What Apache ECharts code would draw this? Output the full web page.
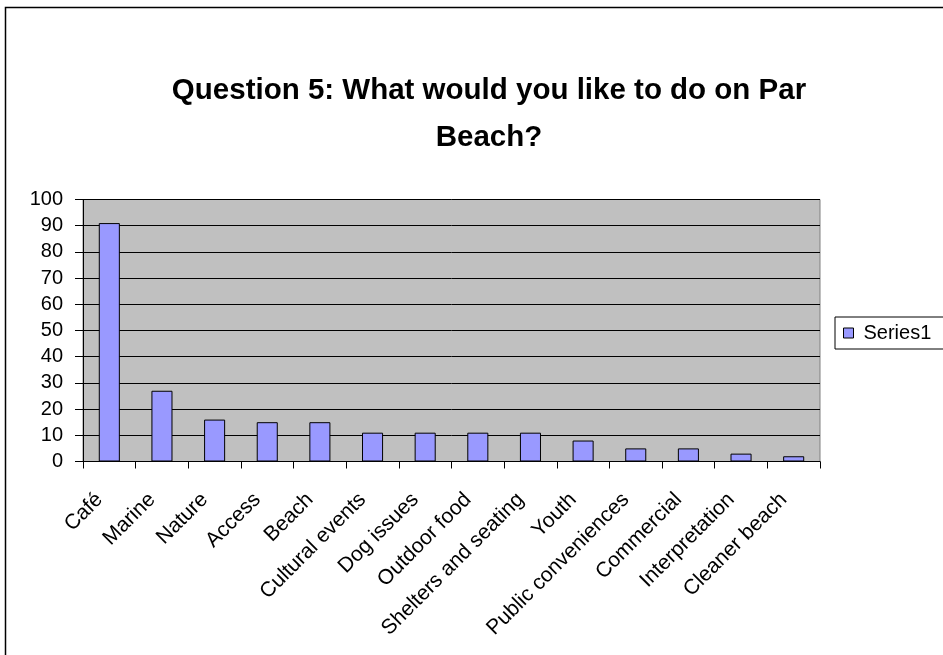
<!DOCTYPE html>
<html>
<head>
<meta charset="utf-8">
<style>
  html, body { margin: 0; padding: 0; background: #fff; }
  #chart { width: 943px; height: 655px; }
</style>
<script src="https://cdn.jsdelivr.net/npm/echarts@6/dist/echarts.min.js"></script>
</head>
<body>
<div id="chart"></div>
<script>
// Survey responses: what people would like to do on Par Beach
const categories = [
  'Café', 'Marine', 'Nature', 'Access', 'Beach', 'Cultural events',
  'Dog issues', 'Outdoor food', 'Shelters and seating', 'Youth',
  'Public conveniences', 'Commercial', 'Interpretation', 'Cleaner beach'
];
const series1 = [91, 27, 16, 15, 15, 11, 11, 11, 11, 8, 5, 5, 3, 2];
const yTicks = { min: 0, max: 100, interval: 10 };

const FONT = '"Liberation Sans", Arial, sans-serif';

const chart = echarts.init(document.getElementById('chart'), null, { renderer: 'canvas' });

chart.setOption({
  backgroundColor: '#ffffff',
  animation: false,
  title: {
    text: 'Question 5: What would you like to do on Par\nBeach?',
    left: 484,
    top: 62,
    textAlign: 'center',
    textStyle: {
      fontFamily: FONT,
      fontWeight: 'bold',
      fontSize: 29.5,
      lineHeight: 47,
      color: '#000'
    }
  },
  graphic: [
    {
      type: 'rect',
      shape: { x: 5.5, y: 7.5, width: 1000, height: 700 },
      style: { fill: 'none', stroke: '#000', lineWidth: 1.5 },
      silent: true
    }
  ],
  legend: {
    data: ['Series1'],
    left: 835,
    top: 317,
    orient: 'vertical',
    backgroundColor: '#fff',
    borderColor: '#000',
    borderWidth: 1,
    padding: [6, 20, 6, 8],
    icon: 'rect',
    itemWidth: 10,
    itemHeight: 10,
    itemGap: 4,
    itemStyle: { borderColor: '#000', borderWidth: 1 },
    textStyle: { fontFamily: FONT, fontSize: 20, color: '#000', padding: [0, 0, 0, 5] }
  },
  grid: {
    left: 83,
    top: 199.5,
    right: 123,
    bottom: 193.5,
    show: true,
    backgroundColor: '#C0C0C0',
    borderColor: '#808080',
    borderWidth: 1,
    containLabel: false
  },
  xAxis: {
    type: 'category',
    data: categories,
    boundaryGap: true,
    axisLine: { show: true, lineStyle: { color: '#000', width: 1 } },
    axisTick: { show: true, length: 7, lineStyle: { color: '#000' } },
    axisLabel: {
      interval: 0,
      rotate: 45,
      margin: 25,
      padding: [0, 14, 0, 0],
      fontFamily: FONT,
      fontSize: 21,
      color: '#000'
    },
    splitLine: { show: false }
  },
  yAxis: {
    type: 'value',
    min: yTicks.min,
    max: yTicks.max,
    interval: yTicks.interval,
    axisLine: { show: true, lineStyle: { color: '#000', width: 1 } },
    axisTick: { show: true, length: 8, lineStyle: { color: '#000' } },
    axisLabel: {
      margin: 20,
      fontFamily: FONT,
      fontSize: 20,
      color: '#000'
    },
    splitLine: { show: true, lineStyle: { color: '#000', width: 1 } }
  },
  series: [
    {
      name: 'Series1',
      type: 'bar',
      data: series1,
      barWidth: '40%',
      itemStyle: { color: '#9999FF', borderColor: '#000', borderWidth: 1 }
    }
  ]
});
</script>
</body>
</html>
